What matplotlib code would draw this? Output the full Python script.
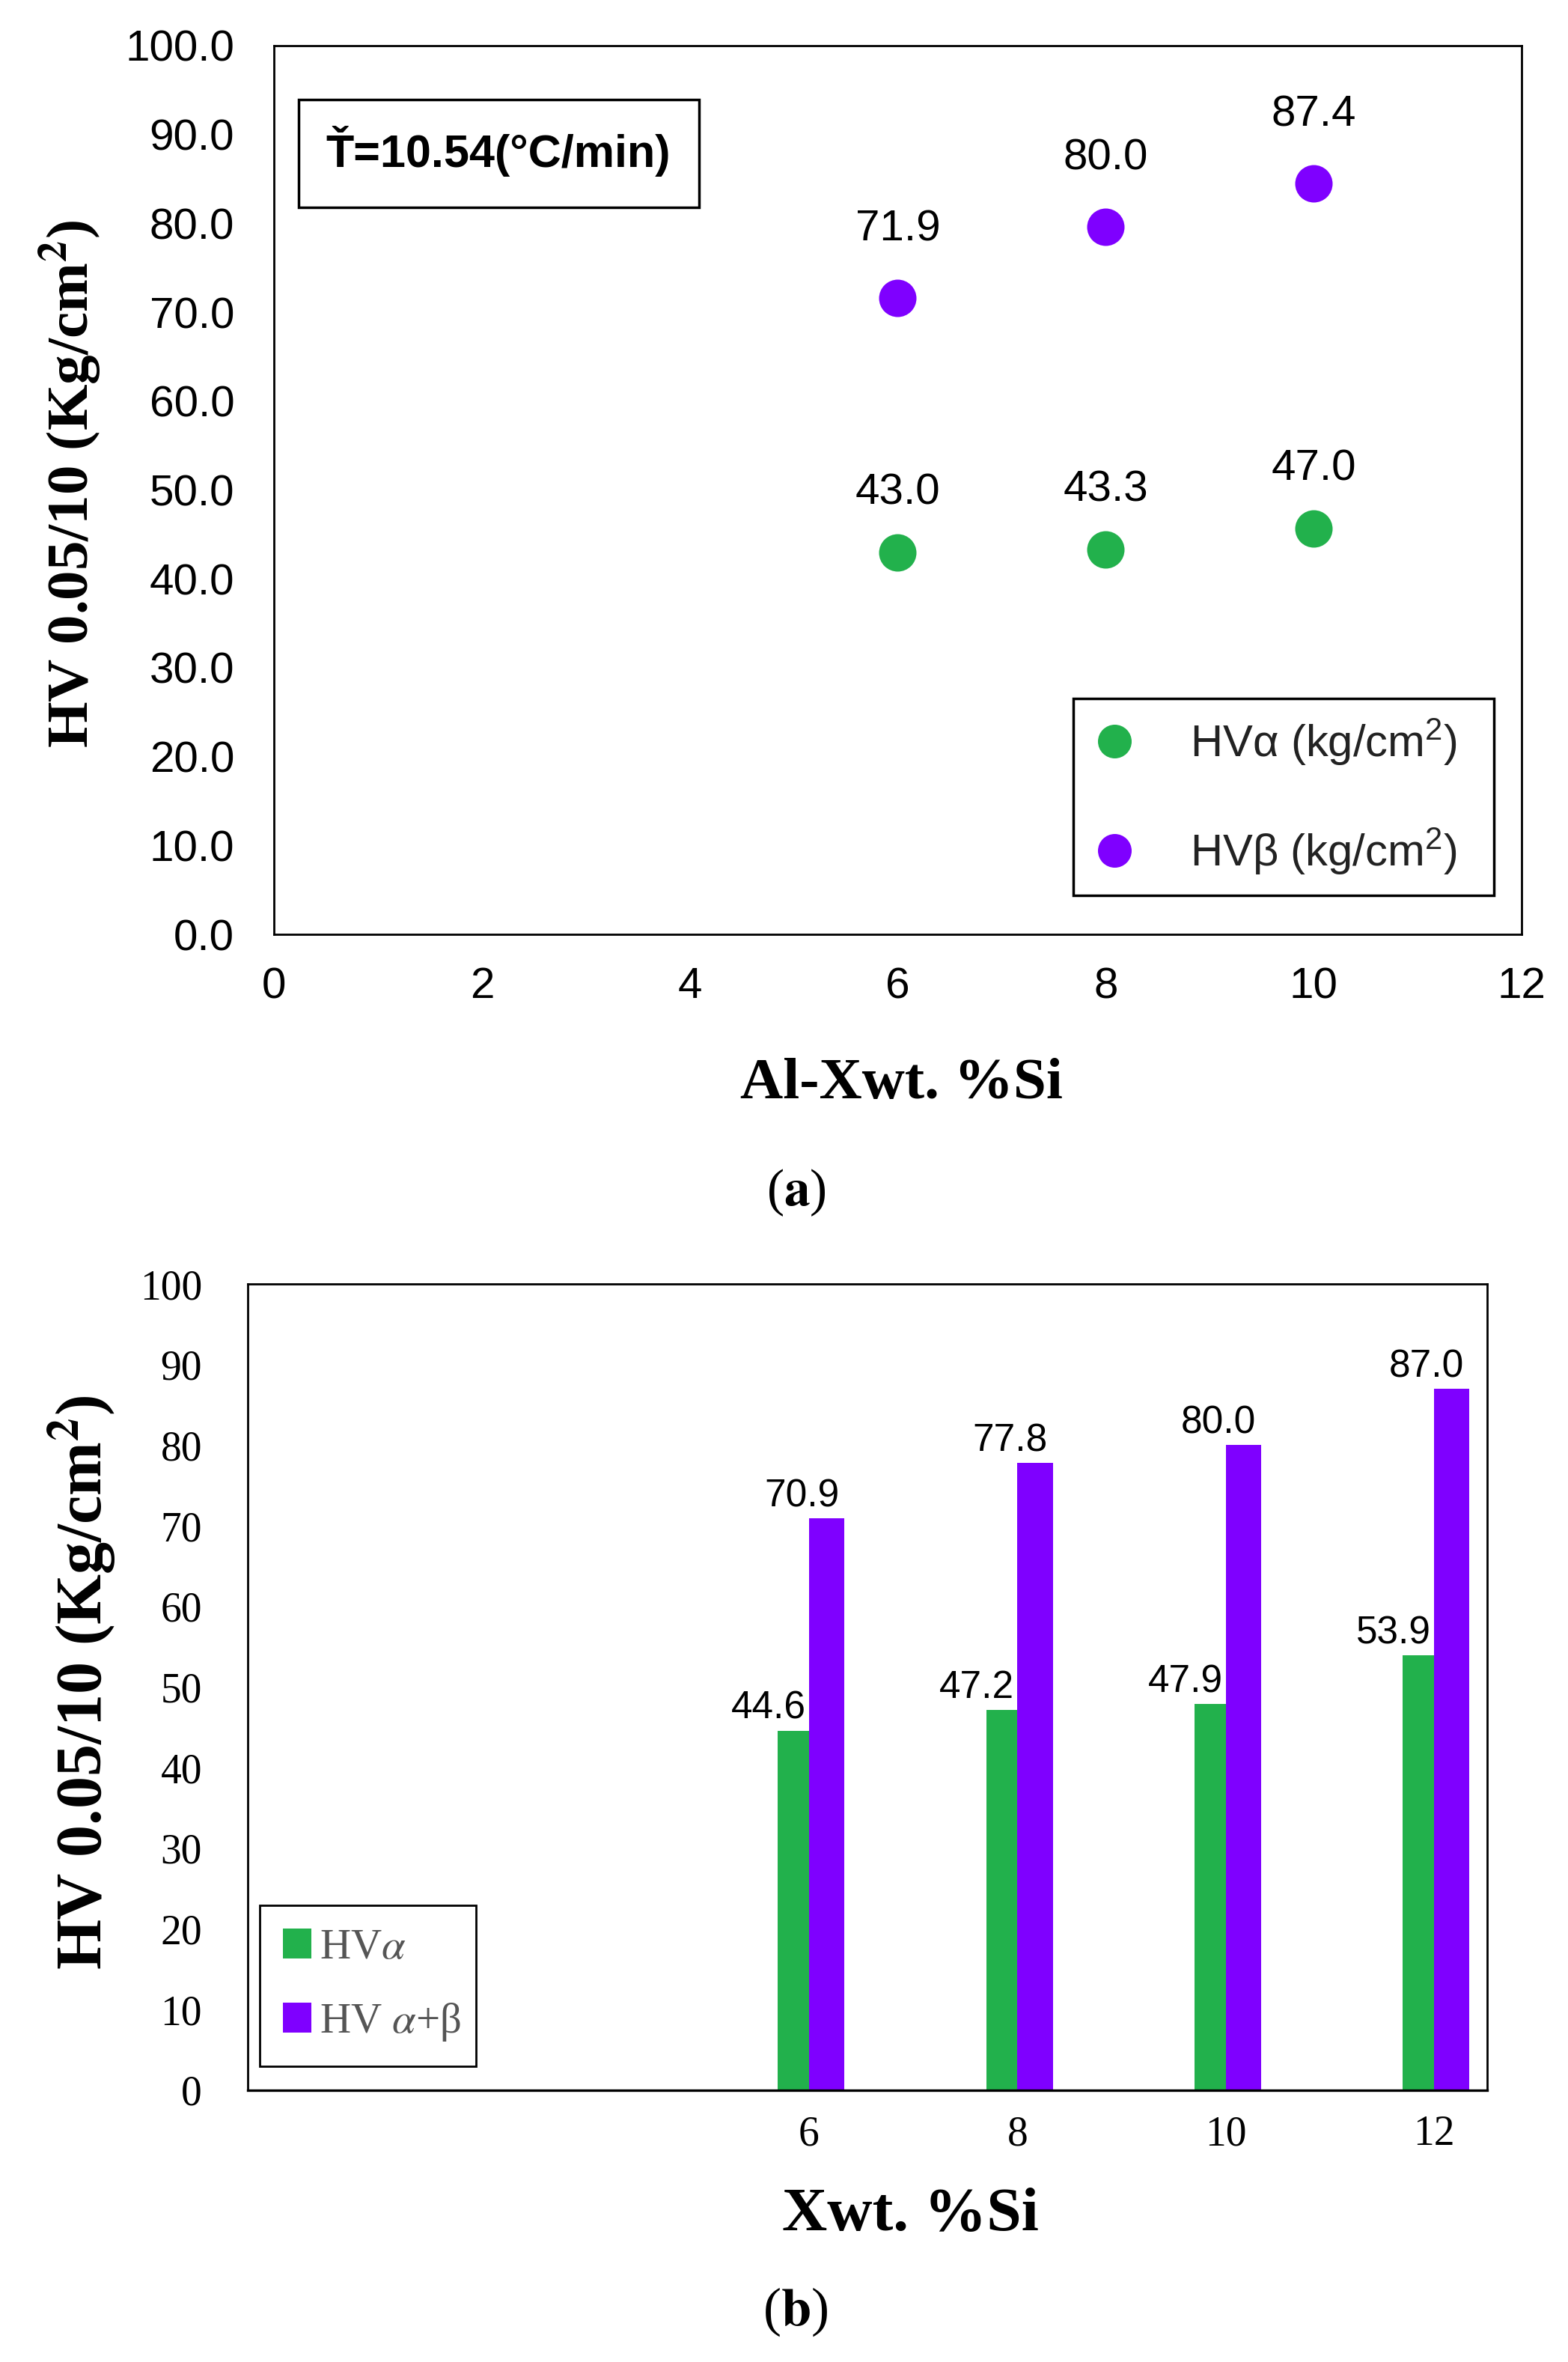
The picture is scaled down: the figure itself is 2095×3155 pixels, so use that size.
import matplotlib
matplotlib.use("Agg")
import matplotlib.pyplot as plt
from matplotlib.patches import Rectangle

# canvas in pixels (saved at dpi=100)
W, H = 2095, 3155
DPI = 100

# ---- panel (a): scatter, Al-Xwt.%Si ----
si_a = [6, 8, 10]
hv_alpha_a = [43.0, 43.3, 45.7]
hv_beta_a = [71.6, 79.6, 84.5]
alpha_a_labels = ["43.0", "43.3", "47.0"]
beta_a_labels = ["71.9", "80.0", "87.4"]
xticks_a = [0, 2, 4, 6, 8, 10, 12]
yticks_a = [0, 10, 20, 30, 40, 50, 60, 70, 80, 90, 100]

# ---- panel (b): grouped bars ----
si_b = [6, 8, 10, 12]
hv_alpha_b = [44.6, 47.2, 47.9, 53.9]
hv_ab_b = [70.9, 77.8, 80.0, 87.0]
yticks_b = [0, 10, 20, 30, 40, 50, 60, 70, 80, 90, 100]

GREEN = "#22B14C"
PURPLE = "#7F00FF"
SANS = "Liberation Sans"
SERIF = "Liberation Serif"

plt.rcParams["font.family"] = [SANS, "DejaVu Sans"]
plt.rcParams["mathtext.fontset"] = "custom"
plt.rcParams["mathtext.rm"] = SANS
plt.rcParams["mathtext.it"] = SANS + ":italic"
plt.rcParams["mathtext.bf"] = SANS + ":bold"


def fx(px):
    return px / W


def fy(py):
    return 1 - py / H


fig = plt.figure(figsize=(W / DPI, H / DPI), dpi=DPI)

# ================= panel (a) =================
ax1 = fig.add_axes([fx(366), fy(1248), fx(2033) - fx(366), fy(61) - fy(1248)])

ax1.plot(si_a, hv_alpha_a, "o", ls="none", ms=36, mew=0, color=GREEN,
         label="HVα (kg/cm$^{2}$)")
ax1.plot(si_a, hv_beta_a, "o", ls="none", ms=36, mew=0, color=PURPLE,
         label="HVβ (kg/cm$^{2}$)")

for x, y, t in zip(si_a, hv_alpha_a, alpha_a_labels):
    ax1.annotate(t, (x, y), xytext=(0, 57), textcoords="offset points",
                 ha="center", va="center", fontsize=42)
for x, y, t in zip(si_a, hv_beta_a, beta_a_labels):
    ax1.annotate(t, (x, y), xytext=(0, 66), textcoords="offset points",
                 ha="center", va="center", fontsize=42)

ax1.set_xlim(0, 12)
ax1.set_ylim(0, 100)
ax1.set_xticks(xticks_a)
ax1.set_yticks(yticks_a)
ax1.set_yticklabels([f"{v:.1f}" for v in yticks_a])
ax1.tick_params(length=0, labelsize=42)
ax1.tick_params(axis="x", pad=31)
ax1.tick_params(axis="y", pad=38)

# temperature rate box
ax1.add_patch(Rectangle((0.0198, 0.818), 0.3209, 0.1213, transform=ax1.transAxes,
                        facecolor="white", edgecolor="black", lw=2.5, zorder=3))
ax1.text(0.180, 0.8635, "Ť=10.54(°C/min)", transform=ax1.transAxes,
         ha="center", va="baseline", fontsize=44, fontweight="bold", zorder=4)

leg1 = ax1.legend(loc="upper left",
                  bbox_to_anchor=(fx(1434), fy(1208), fx(1996) - fx(1434), fy(933) - fy(1208)),
                  bbox_transform=fig.transFigure, mode="expand", borderaxespad=0,
                  prop={"family": SANS, "size": 43}, markerscale=0.9,
                  handlelength=1.0, handletextpad=1.2, borderpad=0.42,
                  labelspacing=1.32, fancybox=False, edgecolor="black", framealpha=1)
leg1.get_frame().set_linewidth(2.5)
for t in leg1.get_texts():
    t.set_color("#222222")

ax1.set_ylabel(r"HV 0.05/10 (Kg/cm$^{\mathbf{2}}$)", fontsize=57, fontweight="bold",
               family=SERIF, math_fontfamily="stix",
               rotation=90, rotation_mode="anchor", ha="center", va="baseline")
ax1.yaxis.set_label_coords(fx(118), fy(646), transform=fig.transFigure)
ax1.set_xlabel("Al-Xwt. %Si", fontsize=57, fontweight="bold", family=SERIF,
               ha="center", va="baseline")
ax1.xaxis.set_label_coords(fx(1204), fy(1467), transform=fig.transFigure)

fig.text(fx(1064), fy(1610), r"($\mathbf{a}$)", ha="center", va="baseline",
         fontsize=50, family=SERIF, math_fontfamily="stix")

# ================= panel (b) =================
ax2 = fig.add_axes([fx(331), fy(2792), fx(1987) - fx(331), fy(1715) - fy(2792)])

bars_a = ax2.bar(si_b, hv_alpha_b, width=-0.30, align="edge", color=GREEN,
                 label=r"HV$\alpha$")
bars_ab = ax2.bar(si_b, hv_ab_b, width=0.34, align="edge", color=PURPLE,
                  label=r"HV $\alpha$+β")

for bars in (bars_a, bars_ab):
    for rect in bars:
        h = rect.get_height()
        ax2.annotate(f"{h:.1f}", (rect.get_x() + rect.get_width() / 2, h),
                     xytext=(-24, 11.5), textcoords="offset points",
                     ha="center", va="baseline", fontsize=37)

ax2.set_xlim(0.612, 12.51)
ax2.set_ylim(0, 100)
ax2.set_xticks(si_b)
ax2.set_yticks(yticks_b)
ax2.tick_params(length=0, labelsize=40, labelfontfamily=SERIF)
ax2.tick_params(axis="x", pad=24)
ax2.tick_params(axis="y", pad=44)

leg2 = ax2.legend(loc="upper left",
                  bbox_to_anchor=(fx(347), fy(2761), fx(636) - fx(347), fy(2545) - fy(2761)),
                  bbox_transform=fig.transFigure, mode="expand", borderaxespad=0,
                  prop={"family": SERIF, "size": 41},
                  handlelength=0.67, handleheight=0.7, handletextpad=0.2,
                  borderpad=0.54, labelspacing=0.8, fancybox=False,
                  edgecolor="black", framealpha=1)
leg2.get_frame().set_linewidth(2.0)
for t in leg2.get_texts():
    t.set_color("#555555")
    t.set_math_fontfamily("stix")

ax2.set_ylabel(r"HV 0.05/10 (Kg/cm$^{\mathbf{2}}$)", fontsize=62, fontweight="bold",
               family=SERIF, math_fontfamily="stix",
               rotation=90, rotation_mode="anchor", ha="center", va="baseline")
ax2.yaxis.set_label_coords(fx(136), fy(2247), transform=fig.transFigure)
ax2.set_xlabel("Xwt. %Si", fontsize=60, fontweight="bold", family=SERIF,
               ha="center", va="baseline")
ax2.xaxis.set_label_coords(fx(1216), fy(2979), transform=fig.transFigure)

fig.text(fx(1063), fy(3106), r"($\mathbf{b}$)", ha="center", va="baseline",
         fontsize=52, family=SERIF, math_fontfamily="stix")

for ax in (ax1, ax2):
    for s in ax.spines.values():
        s.set_linewidth(2.0)
ax2.spines["bottom"].set_linewidth(2.4)

fig.savefig("out.png", dpi=DPI)
